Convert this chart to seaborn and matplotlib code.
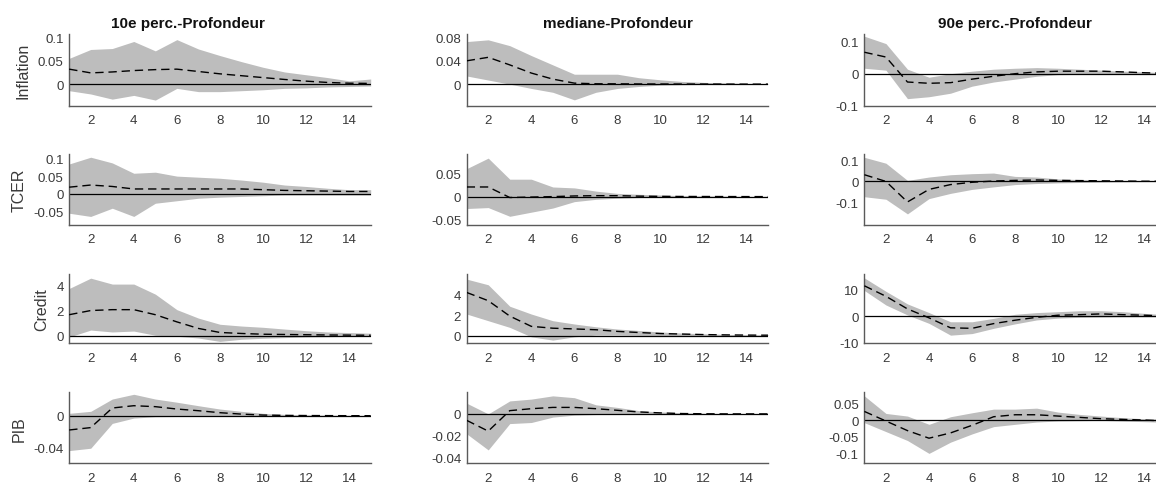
import numpy as np
import pandas as pd
import matplotlib
matplotlib.use("Agg")
import matplotlib.pyplot as plt
import seaborn as sns

# ---------------- data ----------------
horizon = list(range(1, 16))
col_titles = ["10e perc.-Profondeur", "mediane-Profondeur", "90e perc.-Profondeur"]
row_labels = ["Inflation", "TCER", "Credit", "PIB"]
x_ticks = [2, 4, 6, 8, 10, 12, 14]

# Inflation
infl_p10_med = [0.032, 0.024, 0.026, 0.029, 0.031, 0.032, 0.027, 0.022, 0.018, 0.014, 0.010, 0.0064, 0.0036, 0.002, 0.0015]
infl_p10_hi = [0.055, 0.074, 0.076, 0.091, 0.071, 0.095, 0.075, 0.061, 0.048, 0.036, 0.026, 0.020, 0.014, 0.007, 0.011]
infl_p10_lo = [-0.014, -0.021, -0.032, -0.024, -0.034, -0.009, -0.016, -0.016, -0.014, -0.012, -0.009, -0.008, -0.006, -0.005, -0.004]
infl_p50_med = [0.040, 0.046, 0.033, 0.019, 0.0086, 0.0017, 0.0006, 0.0005, 0.0003, 0.0002, 0.0001, 0.0001, 0.0, 0.0, 0.0]
infl_p50_hi = [0.073, 0.076, 0.066, 0.049, 0.033, 0.017, 0.017, 0.017, 0.011, 0.0074, 0.0046, 0.003, 0.002, 0.001, 0.001]
infl_p50_lo = [0.014, 0.007, 0.0, -0.0074, -0.014, -0.027, -0.014, -0.0074, -0.004, -0.0017, -0.001, -0.0005, -0.0003, -0.0002, -0.0001]
infl_p90_med = [0.067, 0.052, -0.026, -0.030, -0.028, -0.017, -0.008, 0.0, 0.0056, 0.0078, 0.0078, 0.0078, 0.0056, 0.003, 0.001]
infl_p90_hi = [0.117, 0.094, 0.014, -0.011, 0.0, 0.0078, 0.014, 0.017, 0.019, 0.017, 0.014, 0.011, 0.008, 0.0056, 0.003]
infl_p90_lo = [0.017, 0.011, -0.078, -0.072, -0.061, -0.039, -0.026, -0.017, -0.008, -0.003, -0.002, -0.002, -0.001, -0.001, -0.001]

# TCER
tcer_p10_med = [0.019, 0.025, 0.021, 0.014, 0.014, 0.014, 0.014, 0.014, 0.014, 0.012, 0.010, 0.009, 0.008, 0.007, 0.007]
tcer_p10_hi = [0.084, 0.103, 0.087, 0.058, 0.061, 0.050, 0.047, 0.044, 0.039, 0.033, 0.025, 0.021, 0.016, 0.012, 0.012]
tcer_p10_lo = [-0.054, -0.063, -0.040, -0.063, -0.026, -0.019, -0.012, -0.009, -0.007, -0.005, -0.003, -0.003, -0.003, -0.003, -0.003]
tcer_p50_med = [0.021, 0.021, -0.002, -0.001, 0.0, 0.0014, 0.002, 0.002, 0.001, 0.0005, 0.0003, 0.0002, 0.0001, 0.0, 0.0]
tcer_p50_hi = [0.061, 0.084, 0.038, 0.038, 0.021, 0.019, 0.012, 0.007, 0.005, 0.0036, 0.002, 0.0015, 0.001, 0.0005, 0.0005]
tcer_p50_lo = [-0.026, -0.024, -0.043, -0.034, -0.025, -0.011, -0.006, -0.0036, -0.002, -0.001, -0.0008, -0.0005, -0.0003, -0.0002, -0.0001]
tcer_p90_med = [0.032, 0.0, -0.098, -0.038, -0.015, -0.004, 0.002, 0.005, 0.007, 0.005, 0.004, 0.003, 0.002, 0.001, 0.001]
tcer_p90_hi = [0.115, 0.087, 0.005, 0.021, 0.032, 0.037, 0.040, 0.024, 0.021, 0.012, 0.009, 0.005, 0.003, 0.002, 0.002]
tcer_p90_lo = [-0.073, -0.085, -0.155, -0.082, -0.057, -0.038, -0.026, -0.015, -0.010, -0.007, -0.005, -0.003, -0.002, -0.001, -0.001]

# Credit
cred_p10_med = [1.67, 2.0, 2.07, 2.07, 1.67, 1.1, 0.58, 0.26, 0.18, 0.12, 0.10, 0.08, 0.06, 0.05, 0.04]
cred_p10_hi = [3.75, 4.57, 4.1, 4.1, 3.3, 2.07, 1.4, 0.91, 0.77, 0.67, 0.53, 0.40, 0.30, 0.25, 0.20]
cred_p10_lo = [-0.1, 0.45, 0.3, 0.37, 0.04, -0.04, -0.18, -0.45, -0.28, -0.2, -0.15, -0.1, -0.08, -0.05, -0.05]
cred_p50_med = [4.2, 3.4, 1.9, 0.9, 0.72, 0.65, 0.57, 0.41, 0.3, 0.2, 0.15, 0.1, 0.07, 0.05, 0.04]
cred_p50_hi = [5.5, 4.95, 2.86, 2.1, 1.45, 1.13, 0.86, 0.64, 0.5, 0.35, 0.25, 0.18, 0.12, 0.08, 0.06]
cred_p50_lo = [2.1, 1.45, 0.8, -0.12, -0.44, -0.12, 0.05, 0.05, 0.02, 0.01, 0.0, 0.0, 0.0, 0.0, 0.0]
cred_p90_med = [11.5, 7.5, 2.7, -0.7, -4.5, -4.7, -2.9, -1.6, -0.5, 0.3, 0.5, 0.8, 0.5, 0.3, 0.0]
cred_p90_hi = [14.5, 9.4, 4.6, 1.3, -2.2, -2.2, -0.9, 0.65, 1.3, 1.65, 2.0, 2.0, 1.65, 1.0, 0.5]
cred_p90_lo = [9.7, 4.2, 0.4, -2.8, -7.3, -6.7, -4.7, -3.0, -1.5, -0.8, -0.5, -0.4, -0.3, -0.3, -0.3]

# PIB
pib_p10_med = [-0.018, -0.015, 0.0097, 0.0126, 0.0114, 0.0084, 0.0063, 0.0038, 0.002, 0.0008, 0.0004, 0.0002, 0.0001, 0.0, 0.0]
pib_p10_hi = [0.003, 0.0055, 0.021, 0.027, 0.021, 0.017, 0.0126, 0.0084, 0.0055, 0.003, 0.0017, 0.001, 0.0006, 0.0004, 0.0003]
pib_p10_lo = [-0.044, -0.041, -0.0097, -0.003, -0.0013, -0.001, -0.0008, -0.0006, -0.0005, -0.0004, -0.0003, -0.0002, -0.0002, -0.0001, -0.0001]
pib_p50_med = [-0.006, -0.016, 0.003, 0.0048, 0.006, 0.006, 0.0048, 0.0033, 0.0018, 0.0009, 0.0003, 0.0001, 0.0, 0.0, 0.0]
pib_p50_hi = [0.0099, 0.0, 0.012, 0.0137, 0.0167, 0.015, 0.0084, 0.006, 0.003, 0.0018, 0.001, 0.0005, 0.0003, 0.0002, 0.0001]
pib_p50_lo = [-0.0185, -0.0334, -0.009, -0.008, -0.003, -0.0012, -0.0006, -0.0003, -0.0002, -0.0001, -0.0001, 0.0, 0.0, 0.0, 0.0]
pib_p90_med = [0.027, -0.002, -0.031, -0.054, -0.038, -0.015, 0.011, 0.017, 0.017, 0.013, 0.009, 0.005, 0.003, 0.001, -0.002]
pib_p90_hi = [0.074, 0.021, 0.013, -0.012, 0.011, 0.023, 0.034, 0.034, 0.037, 0.025, 0.018, 0.013, 0.008, 0.005, 0.003]
pib_p90_lo = [-0.007, -0.034, -0.061, -0.100, -0.066, -0.041, -0.019, -0.012, -0.005, -0.002, -0.001, 0.0, -0.002, -0.004, -0.006]

panels = [
    [(infl_p10_med, infl_p10_lo, infl_p10_hi), (infl_p50_med, infl_p50_lo, infl_p50_hi), (infl_p90_med, infl_p90_lo, infl_p90_hi)],
    [(tcer_p10_med, tcer_p10_lo, tcer_p10_hi), (tcer_p50_med, tcer_p50_lo, tcer_p50_hi), (tcer_p90_med, tcer_p90_lo, tcer_p90_hi)],
    [(cred_p10_med, cred_p10_lo, cred_p10_hi), (cred_p50_med, cred_p50_lo, cred_p50_hi), (cred_p90_med, cred_p90_lo, cred_p90_hi)],
    [(pib_p10_med, pib_p10_lo, pib_p10_hi), (pib_p50_med, pib_p50_lo, pib_p50_hi), (pib_p90_med, pib_p90_lo, pib_p90_hi)],
]

# axis limits and ticks per panel
ylims = [
    [(-0.046, 0.107), (-0.037, 0.086), (-0.1, 0.124)],
    [(-0.087, 0.112), (-0.062, 0.093), (-0.208, 0.131)],
    [(-0.6, 4.9), (-0.75, 6.0), (-10.4, 16.0)],
    [(-0.06, 0.0295), (-0.0458, 0.02), (-0.13, 0.085)],
]
yticks = [
    [([0, 0.05, 0.1], ["0", "0.05", "0.1"]), ([-0.02, 0, 0.04, 0.08], ["", "0", "0.04", "0.08"]), ([-0.1, 0, 0.1], ["-0.1", "0", "0.1"])],
    [([-0.05, 0, 0.05, 0.1], ["-0.05", "0", "0.05", "0.1"]), ([-0.05, 0, 0.05], ["-0.05", "0", "0.05"]), ([-0.1, 0, 0.1], ["-0.1", "0", "0.1"])],
    [([0, 2, 4], ["0", "2", "4"]), ([0, 2, 4], ["0", "2", "4"]), ([-10, 0, 10], ["-10", "0", "10"])],
    [([-0.04, 0, 0.02], ["-0.04", "0", ""]), ([-0.04, -0.02, 0], ["-0.04", "-0.02", "0"]), ([-0.1, -0.05, 0, 0.05], ["-0.1", "-0.05", "0", "0.05"])],
]

# ---------------- style ----------------
sns.set_style("white")
plt.rcParams["font.family"] = ["Liberation Sans", "DejaVu Sans"]

W, H = 1156, 485
fig = plt.figure(figsize=(W / 100, H / 100), dpi=100)

col_left = [69.2, 466.7, 864.4]
col_width = 301.5
row_top = [35.0, 155.0, 275.0, 393.3]
row_bottom = [106.7, 226.0, 344.3, 464.3]

band_color = "#bdbdbd"
axis_color = "#5a5a5a"
text_color = "#3a3a3a"

for r in range(4):
    for c in range(3):
        left = col_left[c] / W
        bottom = 1 - row_bottom[r] / H
        height = (row_bottom[r] - row_top[r]) / H
        ax = fig.add_axes([left, bottom, col_width / W, height])
        med, lo, hi = panels[r][c]
        df = pd.DataFrame({"h": horizon, "med": med, "lo": lo, "hi": hi})
        ax.fill_between(df["h"], df["lo"], df["hi"], color=band_color, linewidth=0, zorder=1)
        ax.axhline(0, color="black", linewidth=0.9, zorder=2)
        sns.lineplot(data=df, x="h", y="med", ax=ax, color="black", linewidth=1.0,
                     linestyle=(0, (6, 3.5)), zorder=3)
        ax.set_xlim(1, 15)
        ax.set_ylim(*ylims[r][c])
        ax.set_xticks(x_ticks)
        ax.set_xticklabels([str(t) for t in x_ticks])
        ax.set_yticks(yticks[r][c][0])
        ax.set_yticklabels(yticks[r][c][1])
        ax.set_xlabel("")
        ax.set_ylabel("")
        for s in ["top", "right"]:
            ax.spines[s].set_visible(False)
        for s in ["left", "bottom"]:
            ax.spines[s].set_color(axis_color)
            ax.spines[s].set_linewidth(1.0)
        ax.tick_params(axis="both", direction="in", length=3, width=0.8,
                       colors=axis_color, labelcolor=text_color, labelsize=9.5)
        ax.tick_params(axis="x", pad=6)
        ax.tick_params(axis="y", pad=4)
        ax.patch.set_alpha(0)
        if c == 0:
            ax.set_ylabel(row_labels[r], fontsize=11.5, color=text_color, labelpad=5)
        if r == 0:
            tx = 0.395 if c == 0 else 0.5
            ax.set_title(col_titles[c], fontsize=11, fontweight="bold",
                         color="#111111", x=tx, pad=5)

fig.savefig("out.png", dpi=100)
